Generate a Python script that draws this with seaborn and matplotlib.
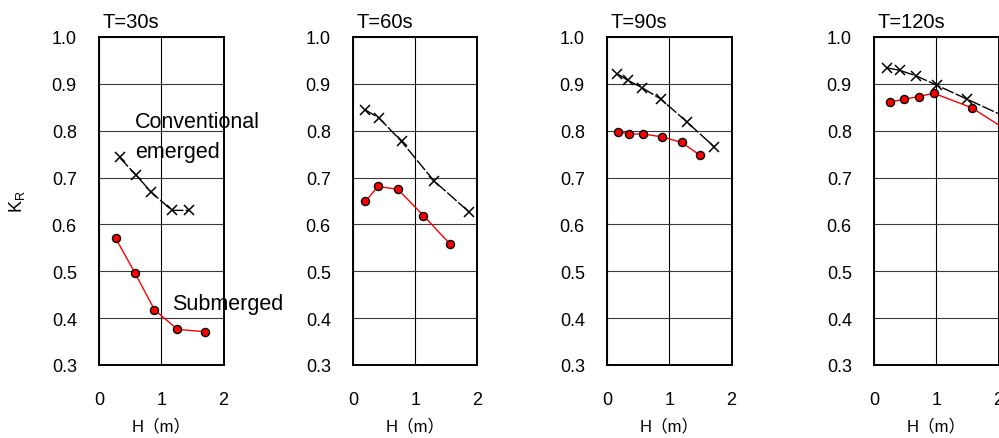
import matplotlib
matplotlib.use("Agg")
import matplotlib.pyplot as plt
import seaborn as sns
import pandas as pd

# Reflection coefficient K_R against wave height H, per wave period
periods = ["T=30s", "T=60s", "T=90s", "T=120s"]

h_conv_30 = [0.33, 0.59, 0.84, 1.17, 1.45]
k_conv_30 = [0.743, 0.706, 0.669, 0.630, 0.630]
h_sub_30 = [0.27, 0.58, 0.89, 1.26, 1.71]
k_sub_30 = [0.570, 0.496, 0.418, 0.376, 0.371]

h_conv_60 = [0.19, 0.42, 0.78, 1.30, 1.87]
k_conv_60 = [0.845, 0.827, 0.777, 0.693, 0.626]
h_sub_60 = [0.20, 0.40, 0.72, 1.13, 1.56]
k_sub_60 = [0.649, 0.681, 0.675, 0.619, 0.558]

h_conv_90 = [0.16, 0.33, 0.56, 0.86, 1.29, 1.72]
k_conv_90 = [0.922, 0.908, 0.892, 0.868, 0.818, 0.766]
h_sub_90 = [0.17, 0.36, 0.58, 0.88, 1.20, 1.49]
k_sub_90 = [0.798, 0.793, 0.793, 0.787, 0.775, 0.748]

h_conv_120 = [0.21, 0.41, 0.68, 1.01, 1.50, 2.30]
k_conv_120 = [0.934, 0.929, 0.917, 0.897, 0.867, 0.818]
h_sub_120 = [0.25, 0.48, 0.72, 0.96, 1.57, 2.30]
k_sub_120 = [0.861, 0.867, 0.873, 0.880, 0.849, 0.787]

conv_h = [h_conv_30, h_conv_60, h_conv_90, h_conv_120]
conv_k = [k_conv_30, k_conv_60, k_conv_90, k_conv_120]
sub_h = [h_sub_30, h_sub_60, h_sub_90, h_sub_120]
sub_k = [k_sub_30, k_sub_60, k_sub_90, k_sub_120]

x_ticks = [0, 1, 2]
y_ticks = [0.3, 0.4, 0.5, 0.6, 0.7, 0.8, 0.9, 1.0]

sns.set_style("white")
plt.rcParams["font.family"] = ["Liberation Sans", "Noto Sans CJK JP", "DejaVu Sans"]
plt.rcParams["mathtext.fontset"] = "custom"
plt.rcParams["mathtext.rm"] = "Liberation Sans"
plt.rcParams["text.color"] = "black"

W, H = 999, 439
fig = plt.figure(figsize=(W / 100, H / 100), dpi=100)

lefts_px = [99, 353, 607, 874]
ax_w_px, top_px, bot_px = 124.5, 38, 366

for i, left in enumerate(lefts_px):
    ax = fig.add_axes([left / W, (H - bot_px) / H, ax_w_px / W, (bot_px - top_px) / H])

    conv = pd.DataFrame({"H": conv_h[i], "K": conv_k[i]})
    sub = pd.DataFrame({"H": sub_h[i], "K": sub_k[i]})

    sns.lineplot(data=conv, x="H", y="K", ax=ax, estimator=None, sort=False,
                 color="black", linewidth=1.0, linestyle=(0, (9, 1.6)),
                 marker="x", markersize=7, markeredgewidth=1.1,
                 markeredgecolor="black", zorder=4)
    sns.lineplot(data=sub, x="H", y="K", ax=ax, estimator=None, sort=False,
                 color="red", linewidth=1.0,
                 marker="o", markersize=5.8, markerfacecolor="red",
                 markeredgecolor="black", markeredgewidth=1.0, zorder=5)

    ax.set_xlim(0, 2)
    ax.set_ylim(0.3, 1.0)
    ax.set_xticks(x_ticks)
    ax.set_yticks(y_ticks)
    ax.set_xticklabels([str(t) for t in x_ticks])
    ax.set_yticklabels([f"{t:.1f}" for t in y_ticks])
    ax.tick_params(axis="both", length=0, labelsize=13, colors="black")
    ax.tick_params(axis="y", pad=16)
    ax.tick_params(axis="x", pad=19)

    ax.grid(True, axis="y", color="#3a3a3a", linewidth=0.8)
    ax.grid(True, axis="x", color="black", linewidth=0.8)
    ax.set_axisbelow(True)
    for sp in ax.spines.values():
        sp.set_color("black")
        sp.set_linewidth(1.4)

    ax.set_xlabel("")
    ax.set_ylabel("")
    ax.text(0.5, -0.20, "H（m）", transform=ax.transAxes, ha="center",
            va="baseline", fontsize=12)
    ax.text(0.03, 1.03, periods[i], transform=ax.transAxes, ha="left",
            va="baseline", fontsize=14.5)

    if i == 0:
        ax.text(0.58, 0.807, "Conventional", ha="left", va="baseline",
                fontsize=15.5, clip_on=False, zorder=6)
        ax.text(0.58, 0.743, "emerged", ha="left", va="baseline",
                fontsize=15.5, clip_on=False, zorder=6)
        ax.text(1.17, 0.42, "Submerged", ha="left", va="baseline",
                fontsize=15.5, clip_on=False, zorder=6)

fig.text(17 / W, (H - 202) / H, r"K$_\mathregular{R}$", rotation=90,
         ha="center", va="center", fontsize=13)

fig.savefig("out.png", dpi=100)
